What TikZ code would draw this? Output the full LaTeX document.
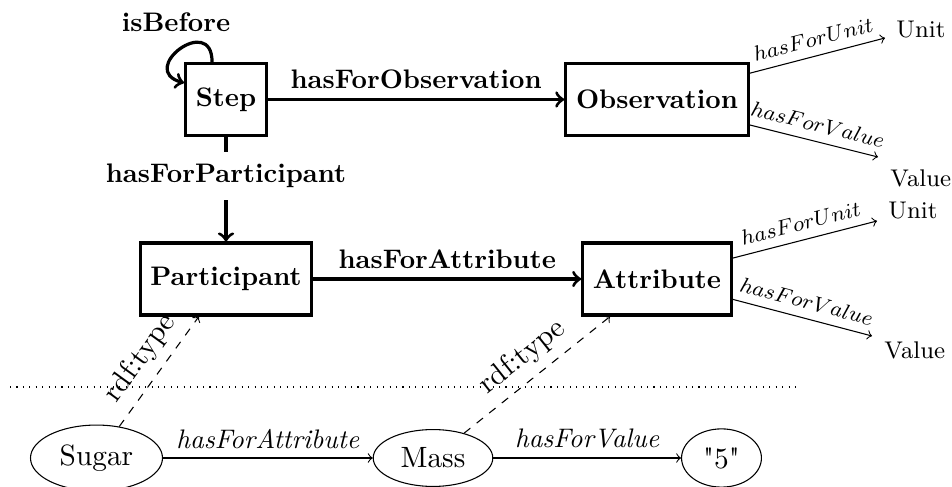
\documentclass[tikz,border=0pt]{standalone}
\usepackage{fontspec}
\usetikzlibrary{shapes.geometric}
\begin{document}
\begin{tikzpicture}[x=0.373pt, y=-0.373pt,
  concept/.style={draw, very thick, font=\bfseries, inner xsep=3.8pt, minimum height=26.8pt},
  relation/.style={very thick, ->},
  rellabel/.style={font=\bfseries},
  instance/.style={draw, ellipse, inner sep=3.7pt, font=\fontsize{10.95}{13}\selectfont},
  proplabel/.style={font=\footnotesize, sloped, above, midway},
  endlabel/.style={font=\small},
  typelabel/.style={font=\fontsize{10.95}{13}\selectfont, sloped, above, midway}
]
\useasboundingbox (0,0) rectangle (952,487);

% ontology classes
\node[concept] (step) at (226,99.5) {Step};
\node[concept] (obs)  at (657,99.5) {Observation};
\node[concept] (part) at (226,279)  {Participant};
\node[concept] (attr) at (657,279)  {Attribute};

% self relation on Step
\draw[relation] ([xshift=-5.2pt]step.north) to[out=90,in=165,distance=18.5pt] ([yshift=6.2pt]step.west);
\node[rellabel] (isbefore) at (176,22) {isBefore};

% relations between classes
\draw[relation] (step) -- node[rellabel, above] {hasForObservation} (obs);
\draw[relation] (step) -- node[rellabel, fill=white, pos=0.37, inner ysep=4.5pt] {hasForParticipant} (part);
\draw[relation] (part) -- node[rellabel, above] {hasForAttribute} (attr);

% unit and value of an observation
\coordinate (obsunit)  at (885,38);
\coordinate (obsvalue) at (878,157);
\draw[->] ([yshift=9.8pt]obs.east)  -- node[proplabel] {$hasForUnit$}  (obsunit);
\draw[->] ([yshift=-9.5pt]obs.east) -- node[proplabel] {$hasForValue$} (obsvalue);
\node[endlabel, anchor=base west]  (obsunitlbl)  at (887,38)  {Unit};
\node[endlabel, anchor=north west] (obsvaluelbl) at (881,160) {Value};

% unit and value of an attribute
\coordinate (attrunit)  at (877,221);
\coordinate (attrvalue) at (872,336);
\draw[->] ([yshift=7.8pt]attr.east)  -- node[proplabel] {$hasForUnit$}  (attrunit);
\draw[->] ([yshift=-7.6pt]attr.east) -- node[proplabel] {$hasForValue$} (attrvalue);
\node[endlabel, anchor=base west]  (attrunitlbl)  at (879,219) {Unit};
\node[endlabel, anchor=north west] (attrvaluelbl) at (875,332) {Value};

% separator between schema and instances
\draw[dotted] (10,387) -- (800,387);

% instances
\node[instance] (sugar) at (96.5,458) {Sugar};
\node[instance] (mass)  at (433,458)  {Mass};
\node[instance] (five)  at (721.5,458) {\textquotedbl 5\textquotedbl};

\draw[->] (sugar) -- node[above] {\textit{hasForAttribute}} (mass);
\draw[->] (mass)  -- node[above] {\textit{hasForValue}} (five);

\draw[->, dashed] (sugar) -- node[typelabel] {rdf:type} (part);
\draw[->, dashed] (mass)  -- node[typelabel] {rdf:type} (attr);
\end{tikzpicture}
\end{document}
